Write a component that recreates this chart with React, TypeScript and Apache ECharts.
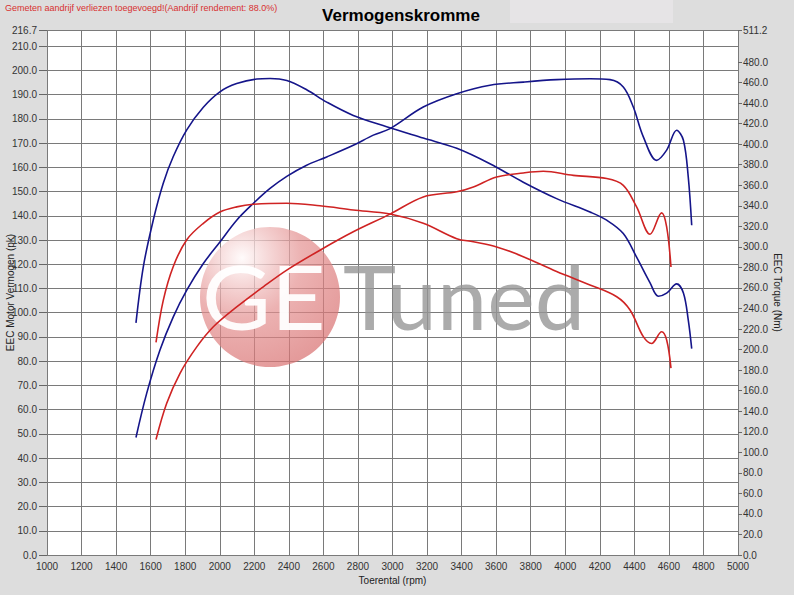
import React, { useEffect, useRef } from 'react';
import * as echarts from 'echarts';

// ---- data ----
const tunedTorqueRpm = [1515, 1558, 1615, 1673, 1731, 1809, 1905, 2001, 2098, 2214, 2291, 2388, 2503, 2619, 2773, 2966, 3178, 3372, 3564, 3757, 3950, 4143, 4240, 4336, 4413, 4491, 4539, 4587, 4645, 4684, 4712, 4732];
const tunedTorqueNm = [226, 281, 326, 362, 388, 414, 436, 451, 459, 463.5, 464, 462, 453, 441, 428, 417, 406, 396, 381, 363, 347, 334, 326, 313, 290, 265, 252, 255, 264, 255, 229, 201];

const tunedPowerRpm = [1515, 1577, 1654, 1731, 1809, 1905, 2001, 2098, 2194, 2291, 2388, 2503, 2619, 2773, 2889, 2986, 3178, 3372, 3564, 3757, 3950, 4143, 4259, 4336, 4394, 4452, 4529, 4587, 4645, 4684, 4712, 4732];
const tunedPowerPk = [48.5, 66.7, 84.6, 98.3, 109.3, 120.3, 129.2, 138.2, 145.1, 151.3, 156.3, 160.9, 164.3, 169.1, 173.3, 176, 184.9, 190.4, 193.9, 195.2, 196.2, 196.6, 196.2, 193.2, 184.9, 172.6, 162.9, 167.1, 175.3, 171.2, 156.1, 136.1];

const stockTorqueRpm = [1631, 1673, 1731, 1809, 1905, 2001, 2098, 2194, 2388, 2580, 2773, 2986, 3178, 3372, 3468, 3603, 3757, 3950, 4143, 4298, 4375, 4452, 4500, 4558, 4587, 4612];
const stockTorqueNm = [207, 248, 281, 307, 323, 334, 339, 341.5, 342.5, 340, 336, 332, 323, 308, 305, 300, 290.5, 276, 263, 251.5, 238.6, 212.6, 206, 217.4, 209.3, 182];

const stockPowerRpm = [1631, 1693, 1770, 1867, 1963, 2098, 2252, 2388, 2580, 2773, 2986, 3178, 3372, 3468, 3603, 3757, 3873, 4047, 4240, 4336, 4413, 4491, 4558, 4587, 4612];
const stockPowerPk = [47.7, 62.6, 75, 85.9, 94.2, 102.4, 110.7, 117.6, 125.8, 133.4, 140.7, 147.8, 149.9, 151.9, 156, 157.7, 158.4, 156.7, 155.4, 152.6, 143.7, 132.4, 141.2, 135.4, 118.9];

const rightTickValues = [0, 20, 40, 60, 80, 100, 120, 140, 160, 180, 200, 220, 240, 260, 280, 300, 320, 340, 360, 380, 400, 420, 440, 460, 480, 511.2];

const titleText = 'Vermogenskromme';
const noteText = 'Gemeten aandrijf verliezen toegevoegd!(Aandrijf rendement: 88.0%)';
const xName = 'Toerental (rpm)';
const leftName = 'EEC Motor Vermogen (pk)';
const rightName = 'EEC Torque (Nm)';

const zip = (xs: number[], ys: number[]) => xs.map((x, i) => [x, ys[i]]);

const FONT = '"Liberation Sans", Arial, sans-serif';
const LOGO_FONT = 'Lato, "Open Sans", sans-serif';
const BLUE = '#15158a';
const RED = '#cf2323';

export default function App() {
  const ref = useRef<HTMLDivElement>(null);
  useEffect(() => {
    if (!ref.current) return;
    const chart = echarts.init(ref.current, null, { renderer: 'svg' });
    const lineSeries = (name: string, data: number[][], color: string, yAxisIndex: number) => ({
      name,
      type: 'line',
      data,
      yAxisIndex,
      showSymbol: false,
      smooth: 0.35,
      lineStyle: { color, width: 1.6 },
      z: 5,
    });
    chart.setOption({
      animation: false,
      backgroundColor: '#dddddd',
      textStyle: { fontFamily: FONT },
      title: {
        text: titleText,
        left: 396,
        top: 2,
        textAlign: 'center',
        textStyle: { fontFamily: FONT, fontSize: 17, fontWeight: 'bold', color: '#000' },
      },
      grid: {
        left: 47,
        right: 56,
        top: 30,
        bottom: 40,
        show: true,
        backgroundColor: '#ffffff',
        borderWidth: 0,
        containLabel: false,
        outerBoundsMode: 'none',
      },
      xAxis: {
        type: 'value',
        min: 1000,
        max: 5000,
        interval: 200,
        name: xName,
        nameLocation: 'middle',
        nameGap: 20,
        nameMoveOverlap: false,
        nameTextStyle: { fontFamily: FONT, fontSize: 10, color: '#222' },
        axisLine: { show: false },
        axisTick: { show: false },
        axisLabel: { fontFamily: FONT, fontSize: 10, color: '#333', margin: 6, formatter: (v: number) => String(v) },
        splitLine: { show: true, lineStyle: { color: '#7a7a7a', width: 1 } },
      },
      yAxis: [
        {
          type: 'value',
          min: 0,
          max: 216.7,
          interval: 10,
          name: leftName,
          nameLocation: 'middle',
          nameGap: 32,
          nameMoveOverlap: false,
          nameTextStyle: { fontFamily: FONT, fontSize: 10, color: '#222' },
          axisLine: { show: false },
          axisTick: { show: true, length: 8, lineStyle: { color: '#666' } },
          axisLabel: {
            fontFamily: FONT,
            fontSize: 10,
            color: '#333',
            margin: 10,
            showMaxLabel: true,
            formatter: (v: number) => v.toFixed(1),
          },
          splitLine: { show: true, lineStyle: { color: '#7a7a7a', width: 1 } },
        },
        {
          type: 'value',
          min: 0,
          max: 511.2,
          interval: 20,
          position: 'right',
          name: rightName,
          nameLocation: 'middle',
          nameRotate: -90,
          nameGap: 34,
          nameMoveOverlap: false,
          nameTextStyle: { fontFamily: FONT, fontSize: 10, color: '#222' },
          axisLine: { show: false },
          axisTick: { show: true, length: 4, customValues: rightTickValues, lineStyle: { color: '#666' } },
          axisLabel: {
            fontFamily: FONT,
            fontSize: 10,
            color: '#333',
            margin: 5,
            customValues: rightTickValues,
            formatter: (v: number) => v.toFixed(1),
          },
          splitLine: { show: false },
        },
      ],
      graphic: [
        {
          type: 'rect',
          silent: true,
          z: 0,
          shape: { x: 510, y: 0, width: 163, height: 23 },
          style: { fill: '#e6e4e6' },
        },
        {
          type: 'text',
          silent: true,
          x: 5,
          y: 3,
          style: { text: noteText, fill: '#d83030', font: `9px ${FONT}` },
        },
        {
          type: 'circle',
          silent: true,
          z: 1,
          shape: { cx: 270, cy: 297, r: 70 },
          style: {
            fill: {
              type: 'radial',
              x: 0.3,
              y: 0.22,
              r: 0.95,
              colorStops: [
                { offset: 0, color: 'rgba(255,250,250,0.8)' },
                { offset: 0.45, color: 'rgba(228,145,145,0.7)' },
                { offset: 1, color: 'rgba(214,105,105,0.72)' },
              ],
            },
          },
        },
        {
          type: 'text',
          silent: true,
          z: 1,
          x: 202,
          y: 295,
          scaleX: 1.05,
          style: {
            text: 'GE',
            fill: 'rgba(255,255,255,0.95)',
            font: `400 90px ${LOGO_FONT}`,
            verticalAlign: 'middle',
          },
        },
        {
          type: 'text',
          silent: true,
          z: 1,
          x: 343,
          y: 295,
          style: {
            text: 'Tuned',
            fill: 'rgba(150,150,150,0.8)',
            font: `400 90px ${LOGO_FONT}`,
            verticalAlign: 'middle',
          },
        },
      ],
      series: [
        lineSeries('Tuned torque', zip(tunedTorqueRpm, tunedTorqueNm), BLUE, 1),
        lineSeries('Tuned power', zip(tunedPowerRpm, tunedPowerPk), BLUE, 0),
        lineSeries('Stock torque', zip(stockTorqueRpm, stockTorqueNm), RED, 1),
        lineSeries('Stock power', zip(stockPowerRpm, stockPowerPk), RED, 0),
      ],
    });
    return () => chart.dispose();
  }, []);
  return <div ref={ref} style={{ position: 'fixed', left: 0, top: 0, width: 794, height: 595 }} />;
}
